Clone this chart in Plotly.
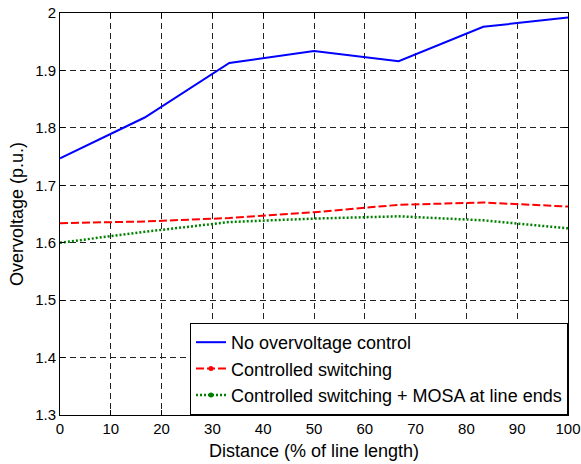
import plotly.graph_objects as go

# Distance along the line (% of line length)
distance = [0, 16.67, 33.33, 50, 66.67, 83.33, 100]

# Overvoltage profiles (p.u.)
no_control = [1.747, 1.818, 1.913, 1.934, 1.916, 1.976, 1.992]
controlled_switching = [1.634, 1.637, 1.643, 1.653, 1.666, 1.670, 1.663]
cs_plus_mosa = [1.600, 1.619, 1.636, 1.642, 1.646, 1.639, 1.625]

names = [
    "No overvoltage control",
    "Controlled switching",
    "Controlled switching + MOSA at line ends",
]
colors = ["#0000ff", "#ff0000", "#008000"]
dashes = ["solid", "8px,3px", "2px,2px"]
widths = [2, 2, 2.5]
series = [no_control, controlled_switching, cs_plus_mosa]

y_ticks = [1.3, 1.4, 1.5, 1.6, 1.7, 1.8, 1.9, 2.0]
y_ticktext = ["1.3", "1.4", "1.5", "1.6", "1.7", "1.8", "1.9", "2"]

FONT = "Liberation Sans, Arial"

fig = go.Figure()

# Curves (legend entries are drawn separately so markers appear only in the legend)
for y, c, d, w in zip(series, colors, dashes, widths):
    fig.add_trace(go.Scatter(
        x=distance, y=y, mode="lines",
        line=dict(color=c, dash=d, width=w),
        showlegend=False, hoverinfo="skip",
    ))

# Legend entries
for i, (n, c, d, w) in enumerate(zip(names, colors, dashes, widths)):
    fig.add_trace(go.Scatter(
        x=[None], y=[None],
        mode="lines" if i == 0 else "lines+markers",
        line=dict(color=c, dash=d, width=w),
        marker=dict(color=c, size=5),
        name=n,
    ))

axis_common = dict(
    showline=True, linecolor="black", linewidth=1, mirror="ticks",
    ticks="inside", ticklen=5, tickcolor="black",
    showgrid=True, gridcolor="#222222", gridwidth=1, griddash="6px,4px",
    zeroline=False, automargin=False,
    tickfont=dict(family=FONT, size=15, color="black"),
    title_font=dict(family=FONT, size=18, color="black"),
)

fig.update_xaxes(
    range=[0, 100], dtick=10, tick0=0,
    title_text="Distance (% of line length)", title_standoff=8,
    **axis_common,
)
fig.update_yaxes(
    range=[1.3, 2.0], tickvals=y_ticks, ticktext=y_ticktext,
    title_text="Overvoltage (p.u.)", title_standoff=6,
    **axis_common,
)

fig.update_layout(
    width=581, height=464,
    margin=dict(l=60, r=13, t=13, b=49),
    paper_bgcolor="white", plot_bgcolor="white",
    font=dict(family=FONT, size=18, color="black"),
    legend=dict(
        x=1, y=0, xanchor="right", yanchor="bottom",
        bgcolor="white", bordercolor="black", borderwidth=1,
        font=dict(family=FONT, size=18, color="black"),
    ),
)

fig.write_html("out.html")
